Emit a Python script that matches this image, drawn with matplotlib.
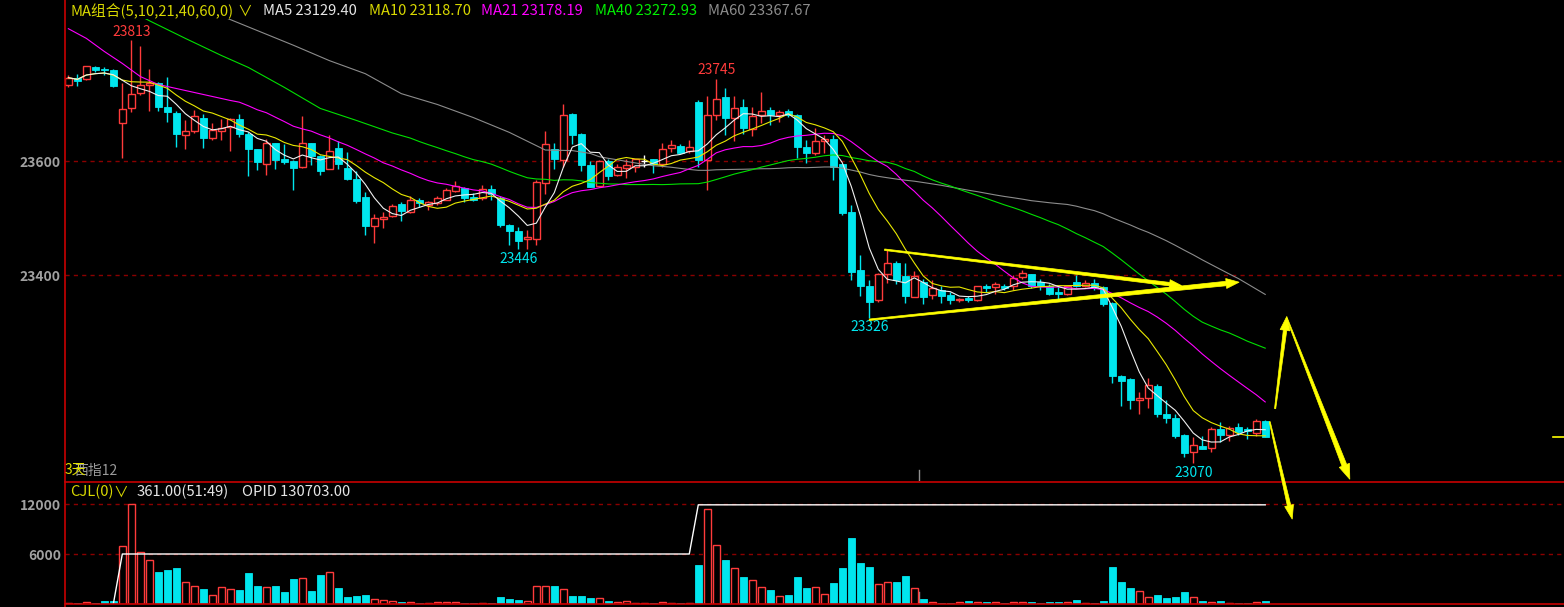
import numpy as np
import pandas as pd
import matplotlib
matplotlib.use('Agg')
import matplotlib.pyplot as plt
from matplotlib.lines import Line2D
from matplotlib.patches import Polygon
from matplotlib.transforms import IdentityTransform, blended_transform_factory

plt.rcParams['font.family'] = ['Noto Sans CJK SC', 'DejaVu Sans']

# ---------------- data ----------------
opens = [
    23735, 23747, 23745, 23765, 23763, 23761, 23668, 23694, 23720, 23735,
    23737, 23696, 23685, 23647, 23653, 23677, 23641, 23653, 23661, 23675,
    23649, 23621, 23596, 23632, 23604, 23600, 23591, 23632, 23610, 23586,
    23623, 23588, 23570, 23537, 23486, 23499, 23504, 23525, 23511, 23532,
    23523, 23527, 23533, 23548, 23554, 23537, 23536, 23551, 23536, 23489,
    23477, 23464, 23464, 23562, 23621, 23603, 23684, 23649, 23593, 23556,
    23600, 23577, 23588, 23591, 23600, 23604, 23596, 23624, 23627, 23618,
    23704, 23603, 23682, 23713, 23676, 23696, 23657, 23681, 23691, 23681,
    23688, 23682, 23626, 23614, 23636, 23640, 23595, 23512, 23409, 23381,
    23356, 23403, 23422, 23398, 23362, 23389, 23365, 23375, 23365, 23356,
    23361, 23357, 23381, 23379, 23382, 23381, 23397, 23402, 23388, 23381,
    23371, 23367, 23388, 23381, 23387, 23379, 23351, 23223, 23218, 23182,
    23184, 23206, 23156, 23150, 23119, 23090, 23100, 23097, 23131, 23119,
    23133, 23130, 23123, 23145]
highs = [
    23751, 23754, 23768, 23768, 23765, 23763, 23737, 23813, 23803, 23763,
    23739, 23749, 23688, 23673, 23691, 23684, 23668, 23675, 23677, 23684,
    23651, 23622, 23640, 23632, 23630, 23602, 23679, 23633, 23612, 23647,
    23635, 23616, 23584, 23546, 23507, 23512, 23526, 23529, 23540, 23536,
    23530, 23539, 23554, 23565, 23555, 23545, 23558, 23558, 23539, 23491,
    23485, 23479, 23567, 23654, 23633, 23701, 23685, 23650, 23600, 23603,
    23604, 23595, 23604, 23605, 23612, 23605, 23633, 23637, 23630, 23638,
    23707, 23714, 23745, 23729, 23714, 23710, 23696, 23721, 23696, 23691,
    23692, 23684, 23638, 23659, 23647, 23647, 23596, 23524, 23435, 23391,
    23404, 23444, 23425, 23422, 23407, 23394, 23392, 23381, 23371, 23361,
    23364, 23382, 23385, 23388, 23385, 23400, 23409, 23403, 23393, 23384,
    23379, 23382, 23400, 23391, 23394, 23382, 23353, 23225, 23220, 23196,
    23220, 23209, 23182, 23156, 23122, 23116, 23118, 23133, 23142, 23135,
    23140, 23134, 23147, 23146]
lows = [
    23730, 23733, 23743, 23757, 23751, 23731, 23606, 23686, 23716, 23688,
    23688, 23670, 23625, 23621, 23650, 23623, 23637, 23638, 23618, 23643,
    23574, 23585, 23576, 23586, 23595, 23550, 23589, 23594, 23576, 23586,
    23586, 23567, 23527, 23470, 23456, 23483, 23503, 23495, 23509, 23520,
    23515, 23523, 23532, 23546, 23529, 23530, 23532, 23532, 23484, 23454,
    23446, 23447, 23454, 23543, 23587, 23590, 23631, 23584, 23555, 23555,
    23568, 23574, 23571, 23581, 23591, 23580, 23590, 23616, 23614, 23614,
    23590, 23550, 23672, 23646, 23635, 23649, 23644, 23667, 23664, 23669,
    23678, 23606, 23597, 23612, 23615, 23568, 23506, 23392, 23363, 23326,
    23353, 23386, 23384, 23351, 23362, 23350, 23358, 23351, 23350, 23354,
    23354, 23355, 23371, 23368, 23374, 23374, 23394, 23377, 23374, 23365,
    23358, 23366, 23379, 23379, 23374, 23346, 23211, 23171, 23165, 23156,
    23167, 23151, 23141, 23114, 23081, 23070, 23095, 23090, 23108, 23109,
    23119, 23112, 23118, 23116]
closes = [
    23747, 23741, 23767, 23761, 23760, 23732, 23692, 23719, 23735, 23737,
    23695, 23686, 23648, 23653, 23679, 23641, 23656, 23658, 23675, 23648,
    23622, 23599, 23633, 23602, 23599, 23589, 23633, 23609, 23583, 23619,
    23595, 23569, 23530, 23486, 23501, 23503, 23522, 23513, 23532, 23527,
    23528, 23535, 23550, 23557, 23536, 23533, 23551, 23543, 23489, 23477,
    23461, 23468, 23563, 23630, 23604, 23682, 23647, 23593, 23555, 23600,
    23574, 23590, 23594, 23604, 23600, 23596, 23622, 23628, 23615, 23626,
    23602, 23682, 23709, 23676, 23694, 23658, 23679, 23689, 23681, 23686,
    23682, 23625, 23614, 23635, 23640, 23591, 23509, 23406, 23381, 23354,
    23403, 23422, 23391, 23364, 23398, 23362, 23377, 23364, 23356, 23359,
    23357, 23381, 23378, 23384, 23378, 23396, 23404, 23382, 23382, 23367,
    23367, 23381, 23382, 23387, 23379, 23349, 23223, 23215, 23181, 23185,
    23207, 23156, 23150, 23118, 23089, 23103, 23096, 23131, 23119, 23132,
    23125, 23127, 23145, 23116]
vols = [
    120, 120, 250, 120, 370, 370, 6980, 12000, 6240, 5260,
    3800, 4080, 4320, 2690, 2200, 1750, 1100, 2000, 1840, 1630,
    3670, 2160, 2000, 2160, 1390, 3020, 3140, 1510, 3470, 3790,
    1920, 820, 940, 1140, 610, 490, 410, 290, 245, 160,
    120, 245, 245, 245, 160, 160, 120, 160, 900, 650,
    530, 370, 2200, 2200, 2120, 1840, 1020, 1020, 770, 730,
    410, 245, 370, 120, 120, 160, 245, 120, 160, 120,
    4690, 11380, 7100, 5300, 4280, 3220, 2940, 2080, 1630, 980,
    1140, 3220, 1880, 2080, 1220, 2490, 4320, 7870, 4940, 4450,
    2450, 2690, 2610, 3340, 1880, 650, 245, 160, 160, 290,
    410, 290, 290, 290, 160, 290, 290, 290, 160, 290,
    290, 290, 530, 160, 160, 410, 4450, 2610, 1880, 1510,
    900, 1140, 770, 900, 1390, 900, 410, 290, 410, 120,
    160, 160, 290, 361]
# OPID line of the volume pane (not drawn for the first bars)
opid = [np.nan] * 5 + [0] + [6000] * 64 + [11900] * 64

# long MAs before their window fills (history off the left edge)
ma21_head_idx = [0, 2, 4, 6, 8, 10, 12, 14, 16, 18, 19]
ma21_head = [23833, 23816, 23793, 23772, 23749, 23735, 23728, 23721, 23714, 23707, 23704]
ma40_head_idx = [0, 5, 9, 13, 17, 20, 24, 28, 32, 36, 38]
ma40_head = [23919, 23881, 23847, 23816, 23786, 23765, 23730, 23693, 23672, 23650, 23641]
ma60_head_idx = [0, 10, 18, 25, 29, 33, 37, 41, 45, 49, 53, 56, 58]
ma60_head = [23961, 23900, 23849, 23804, 23777, 23754, 23719, 23700, 23677, 23651, 23620, 23619, 23614]

# marked highs / lows
hi_marks = [7, 72]
lo_marks = [50, 89, 125]

ma_legend = [('MA5 23129.40', '#e6e6e6', 263), ('MA10 23118.70', '#d8d800', 369),
             ('MA21 23178.19', '#ff00ff', 481), ('MA40 23272.93', '#00ee00', 595),
             ('MA60 23367.67', '#8c8c8c', 708)]

# hand-drawn yellow strokes: (x0, p0, x1, p1, start width, shaft end width, head len, head width)
strokes = [
    (90.7, 23445, 123.7, 23382, 1.5, 3.5, 12, 9),
    (89.0, 23322, 130.1, 23388, 1.5, 4.5, 13, 10),
    (134.1, 23166, 135.4, 23328, 1.2, 3.5, 14, 10),
    (135.4, 23325, 142.4, 23042, 1.0, 5.0, 15, 11),
    (133.5, 23143, 136.0, 22972, 1.0, 3.5, 14, 9),
]

RED = '#ff3b3b'
CYAN = '#00e6ee'
AXRED = '#c80000'
GRIDRED = '#8a0000'
YEL = '#ffff00'

W, H = 1564, 607
fig = plt.figure(figsize=(W / 100, H / 100), dpi=100, facecolor='black')


def box(left, top, right, bottom):
    return [left / W, 1 - bottom / H, (right - left) / W, (bottom - top) / H]


ax = fig.add_axes(box(65, 19, 1564, 481))
axv = fig.add_axes(box(65, 482, 1564, 604))
for a in (ax, axv):
    a.set_facecolor('black')
    for s in a.spines.values():
        s.set_visible(False)
    a.set_xlim(-0.37, 166.2)
    a.set_xticks([])
    a.tick_params(axis='y', length=0, pad=3, labelcolor='#a0a0a0', labelsize=10)

ax.set_ylim(23039, 23850)
axv.set_ylim(0, 14640)
ax.set_yticks([23400, 23600])
ax.set_yticklabels(['23400', '23600'], fontweight='bold')
axv.set_yticks([6000, 12000])
axv.set_yticklabels(['6000', '12000'], fontweight='bold')

for v in (23400, 23600):
    ax.axhline(v, color=GRIDRED, lw=1, ls=(0, (3, 3)), zorder=0)
for v in (6000, 12000):
    axv.axhline(v, color=GRIDRED, lw=1, ls=(0, (3, 3)), zorder=0)

# ---------------- candles ----------------
idx = np.arange(len(closes))
o, h, l, c = map(np.array, (opens, highs, lows, closes))
up = c > o
dn = c < o
fl = c == o
bw = 0.76

ax.vlines(idx[dn], l[dn], h[dn], color=CYAN, lw=1, zorder=2)
ax.bar(idx[dn], o[dn] - c[dn], bottom=c[dn], width=bw, color=CYAN, edgecolor=CYAN, lw=0.6, zorder=3)
ax.vlines(idx[up], c[up], h[up], color=RED, lw=1, zorder=2)
ax.vlines(idx[up], l[up], o[up], color=RED, lw=1, zorder=2)
ax.bar(idx[up], c[up] - o[up], bottom=o[up], width=bw, facecolor='black', edgecolor=RED, lw=1, zorder=3)
ax.vlines(idx[fl], l[fl], h[fl], color='white', lw=1, zorder=2)
ax.hlines(c[fl], idx[fl] - bw / 2, idx[fl] + bw / 2, color='white', lw=1, zorder=3)

# ---------------- moving averages ----------------
cs = pd.Series(c, dtype=float)
ma5 = cs.rolling(5, min_periods=1).mean()
ma10 = cs.rolling(10, min_periods=1).mean()


def joined(head_idx, head_vals, n):
    full = cs.rolling(n).mean().values
    xs = list(head_idx) + list(range(n - 1, len(full)))
    ys = list(head_vals) + list(full[n - 1:])
    return xs, ys


ax.plot(*joined(ma60_head_idx, ma60_head, 60), color='#8c8c8c', lw=0.8, zorder=4)
ax.plot(*joined(ma40_head_idx, ma40_head, 40), color='#00e000', lw=0.8, zorder=4)
ax.plot(*joined(ma21_head_idx, ma21_head, 21), color='#ff00ff', lw=0.8, zorder=4)
ax.plot(idx, ma10, color='#e8e800', lw=0.8, zorder=5)
ax.plot(idx, ma5, color='#f0f0f0', lw=0.8, zorder=5)

# high / low labels
for i in hi_marks:
    ax.annotate(str(h[i]), (i, h[i]), xytext=(0, 1), textcoords='offset points',
                ha='center', va='bottom', color=RED, fontsize=10, zorder=6)
for i in lo_marks:
    ax.annotate(str(l[i]), (i, l[i]), xytext=(0, -2), textcoords='offset points',
                ha='center', va='top', color=CYAN, fontsize=10, zorder=6)

# last price marker on the right edge and day separator
bt = blended_transform_factory(ax.transAxes, ax.transData)
ax.plot([0.9927, 1.0], [c[-1], c[-1]], transform=bt, color=YEL, lw=1.2, clip_on=False)
ax.plot([94.5, 94.5], [0, 0.024], transform=blended_transform_factory(ax.transData, ax.transAxes),
        color='#909090', lw=1)
axv.plot([94.5, 94.5], [0, 0.1], transform=blended_transform_factory(axv.transData, axv.transAxes),
         color='#909090', lw=1)

# ---------------- volume pane ----------------
v = np.array(vols)
vup = c >= o
axv.bar(idx[~vup], v[~vup], width=bw, color=CYAN, edgecolor=CYAN, lw=0.6, zorder=2)
axv.bar(idx[vup], v[vup], width=bw, facecolor='black', edgecolor=RED, lw=1, zorder=2)
axv.plot(idx, opid, color='white', lw=1, zorder=3)


# ---------------- yellow hand-drawn arrows ----------------
def brush(x0, y0, x1, y1, w0, w1, hl, hw):
    p0 = ax.transData.transform((x0, y0))
    p1 = ax.transData.transform((x1, y1))
    d = p1 - p0
    u = d / np.hypot(*d)
    nrm = np.array([-u[1], u[0]])
    pb = p1 - u * hl
    pts = [p0 + nrm * w0 / 2, pb + nrm * w1 / 2, pb + nrm * hw / 2, p1,
           pb - nrm * hw / 2, pb - nrm * w1 / 2, p0 - nrm * w0 / 2]
    fig.add_artist(Polygon(pts, closed=True, transform=IdentityTransform(),
                           facecolor=YEL, edgecolor=YEL, lw=0.5, zorder=10))


for s in strokes:
    brush(*s)

# ---------------- frame lines ----------------
fig.add_artist(Line2D([64.5 / W, 64.5 / W], [0, 1], color=AXRED, lw=1.2))
fig.add_artist(Line2D([65 / W, 1], [1 - 481.5 / H] * 2, color=AXRED, lw=1.2))
fig.add_artist(Line2D([65 / W, 1], [1 - 603.8 / H] * 2, color=AXRED, lw=1.2))

# ---------------- legend texts ----------------
def ftext(x, y, s, color, size=10.6, **kw):
    fig.text(x / W, 1 - y / H, s, color=color, fontsize=size, va='center', ha='left', **kw)


ftext(70, 11, 'MA组合(5,10,21,40,60,0)', '#d8d800')
ftext(237, 12, '∨', '#d8d800')
for s, col, x in ma_legend:
    ftext(x, 11, s, col)

ftext(70, 492, 'CJL(0)', '#d8d800')
ftext(113, 493, '∨', '#d8d800')
ftext(137, 492, '361.00(51:49)', '#e6e6e6')
ftext(242, 492, 'OPID 130703.00', '#e6e6e6')

# the reference prints these two labels on top of each other
ftext(74, 471, '西指12', '#9a9a9a', size=10)
ftext(65, 470, '3天', '#e0e000', size=10)

fig.savefig('out.png', dpi=100, facecolor='black')
